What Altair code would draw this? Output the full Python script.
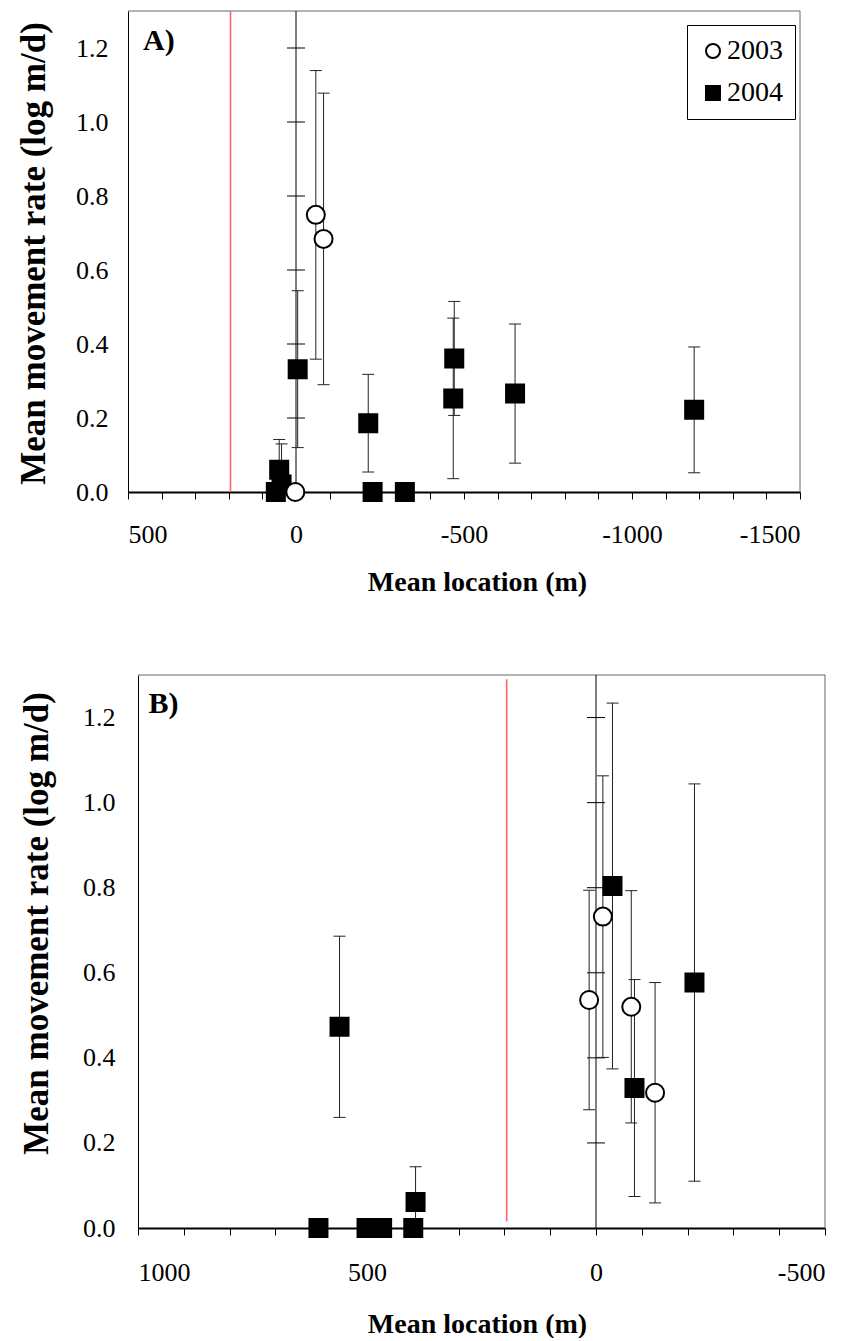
import altair as alt
import pandas as pd

# ---------------- data ----------------
years = ["2003", "2004"]
y_tick_values = [0.0, 0.2, 0.4, 0.6, 0.8, 1.0, 1.2]
red_line_x = 195

# Panel A
a03_x = [-59, -82, 2]
a03_y = [0.749, 0.684, 0.0]
a03_err = [0.390, 0.394, 0.0]
a04_x = [-5, -215, -471, -468, -652, -1185, -228, -324, 50, 43, 60]
a04_y = [0.332, 0.186, 0.361, 0.253, 0.266, 0.222, 0.0, 0.0, 0.060, 0.020, 0.0]
a04_err = [0.212, 0.132, 0.154, 0.217, 0.188, 0.170, 0.0, 0.0, 0.082, 0.110, 0.0]
a_x_domain = [500, -1500]
a_x_ticks = list(range(500, -1501, -100))

# Panel B
b03_x = [-15, 15, -77, -129]
b03_y = [0.732, 0.536, 0.520, 0.318]
b03_err = [0.331, 0.258, 0.273, 0.259]
b04_x = [560, 606, 501, 467, 399, 394, -36, -84, -215]
b04_y = [0.473, 0.0, 0.0, 0.0, 0.0, 0.061, 0.804, 0.329, 0.577]
b04_err = [0.213, 0.0, 0.0, 0.0, 0.0, 0.083, 0.430, 0.255, 0.467]
b_x_domain = [1000, -500]
b_x_ticks = list(range(1000, -501, -100))

FONT = "Liberation Serif"


def panel(x03, y03, e03, x04, y04, e04, xdom, xticks, label, lab_x, lab_y,
          width, height, red_y, red_y2, legend, lab_pad_x, title_x, title_y_x,
          title_y_y, ylab_pad, xtitle_y, shift):
    rows = []
    for xs, ys, es, yr in ((x04, y04, e04, "2004"), (x03, y03, e03, "2003")):
        for x, y, e in zip(xs, ys, es):
            rows.append({"x": x, "y": y, "err": e, "year": yr})
    df = pd.DataFrame(rows)
    df["lo"] = (df["y"] - df["err"]).clip(lower=0)
    df["hi"] = df["y"] + df["err"]
    bars = df[df["err"] > 0]
    caps = pd.concat([
        pd.DataFrame({"x": bars["x"], "cy": bars["hi"]}),
        pd.DataFrame({"x": bars["x"], "cy": bars["y"] - bars["err"]})[
            lambda d: d["cy"] >= 0],
    ])

    xscale = alt.Scale(domain=xdom, nice=False, zero=False, range=[shift, width])
    yscale = alt.Scale(domain=[0, 1.3], nice=False, zero=False)
    xaxis = alt.Axis(
        values=xticks,
        labelExpr="datum.value % 500 == 0 ? toString(datum.value) : ''",
        tickSize=7, tickColor="black", tickWidth=1,
        domainColor="black", domainWidth=2,
        labelFont=FONT, labelFontSize=26, labelColor="black",
        labelPadding=lab_pad_x, labelOverlap=False,
        title="Mean location (m)", titleFont=FONT, titleFontSize=28,
        titleFontWeight="bold", titleColor="black",
        titleX=title_x, titleY=xtitle_y, titleAlign="center",
        titleBaseline="alphabetic", grid=False,
    )
    yaxis = alt.Axis(
        values=y_tick_values, format=".1f", ticks=False,
        domainColor="black", domainWidth=1, offset=-shift,
        labelFont=FONT, labelFontSize=26, labelColor="black",
        labelPadding=ylab_pad,
        title="Mean movement rate (log m/d)", titleFont=FONT,
        titleFontSize=35, titleFontWeight="bold", titleColor="black",
        titleX=title_y_x, titleY=title_y_y, titleAlign="center",
        titleBaseline="alphabetic", grid=False,
    )

    def X(f):
        return alt.X(f, type="quantitative", scale=xscale, axis=xaxis)

    def Y(f):
        return alt.Y(f, type="quantitative", scale=yscale, axis=yaxis)

    frame = alt.Chart(pd.DataFrame({
        "x": [xdom[0], xdom[1]], "x2": [xdom[1], xdom[1]],
        "y": [1.3, 0.0], "y2": [1.3, 1.3]})).mark_rule(
        color="#666", strokeWidth=1).encode(x=X("x"), x2="x2", y=Y("y"), y2="y2")
    red = alt.Chart(pd.DataFrame({"x": [red_line_x], "y": [red_y], "y2": [red_y2]})).mark_rule(
        color="#ff6666", strokeWidth=1.6).encode(x=X("x"), y=Y("y"), y2="y2")
    zero = alt.Chart(pd.DataFrame({"x": [0], "y": [0.0], "y2": [1.3]})).mark_rule(
        color="black", strokeWidth=1).encode(x=X("x"), y=Y("y"), y2="y2")
    cross = alt.Chart(pd.DataFrame({"x": [0] * 6, "y": y_tick_values[1:]})).mark_tick(
        orient="horizontal", size=18, thickness=1, color="black", opacity=1).encode(
        x=X("x"), y=Y("y"))
    err = alt.Chart(bars).mark_rule(color="#222", strokeWidth=1).encode(
        x=X("x"), y=Y("lo"), y2="hi")
    cap = alt.Chart(caps).mark_tick(orient="horizontal", size=12, thickness=1,
                                    color="#222", opacity=1).encode(x=X("x"), y=Y("cy"))
    if legend:
        leg = alt.Legend(title=None, orient="none", legendX=559, legendY=14,
                         strokeColor="black", fillColor="white", padding=12,
                         labelFont=FONT, labelFontSize=28, labelColor="black",
                         symbolSize=196, symbolStrokeWidth=2, rowPadding=14,
                         labelOffset=0)
    else:
        leg = None
    pts = alt.Chart(df).mark_point(opacity=1, stroke="black", strokeWidth=2,
                                   size=324).encode(
        x=X("x"), y=Y("y"),
        shape=alt.Shape("year:N", scale=alt.Scale(domain=years, range=["circle", "square"]), legend=leg),
        fill=alt.Fill("year:N", scale=alt.Scale(domain=years, range=["white", "black"]), legend=leg),
    )
    txt = alt.Chart(pd.DataFrame({"x": [lab_x], "y": [lab_y], "t": [label]})).mark_text(
        align="left", baseline="alphabetic", font=FONT, fontSize=30,
        fontWeight="bold", color="black").encode(x=X("x"), y=Y("y"), text="t:N")
    return alt.layer(frame, red, zero, cross, err, cap, pts, txt).properties(
        width=width, height=height)


A = panel(a03_x, a03_y, a03_err, a04_x, a04_y, a04_err, a_x_domain, a_x_ticks,
          "A)", 455, 1.195, 672, 481, 0.0, 1.3, True, 22, 349, -84, 242, 20, 98, 0)
B = panel(b03_x, b03_y, b03_err, b04_x, b04_y, b04_err, b_x_domain, b_x_ticks,
          "B)", 977, 1.211, 697, 553, 0.015, 1.29, False, 24, 349, -91, 248, 23, 104, 10)

chart = alt.vconcat(A, B, spacing=78).properties(
    padding={"left": 15, "top": 10, "right": 5, "bottom": 0}
).configure_view(strokeWidth=0).resolve_scale(
    x="independent", y="independent", shape="independent", fill="independent"
).resolve_legend(shape="independent", fill="independent")

chart.save("out.html", embed_options={"renderer": "svg", "actions": False})
